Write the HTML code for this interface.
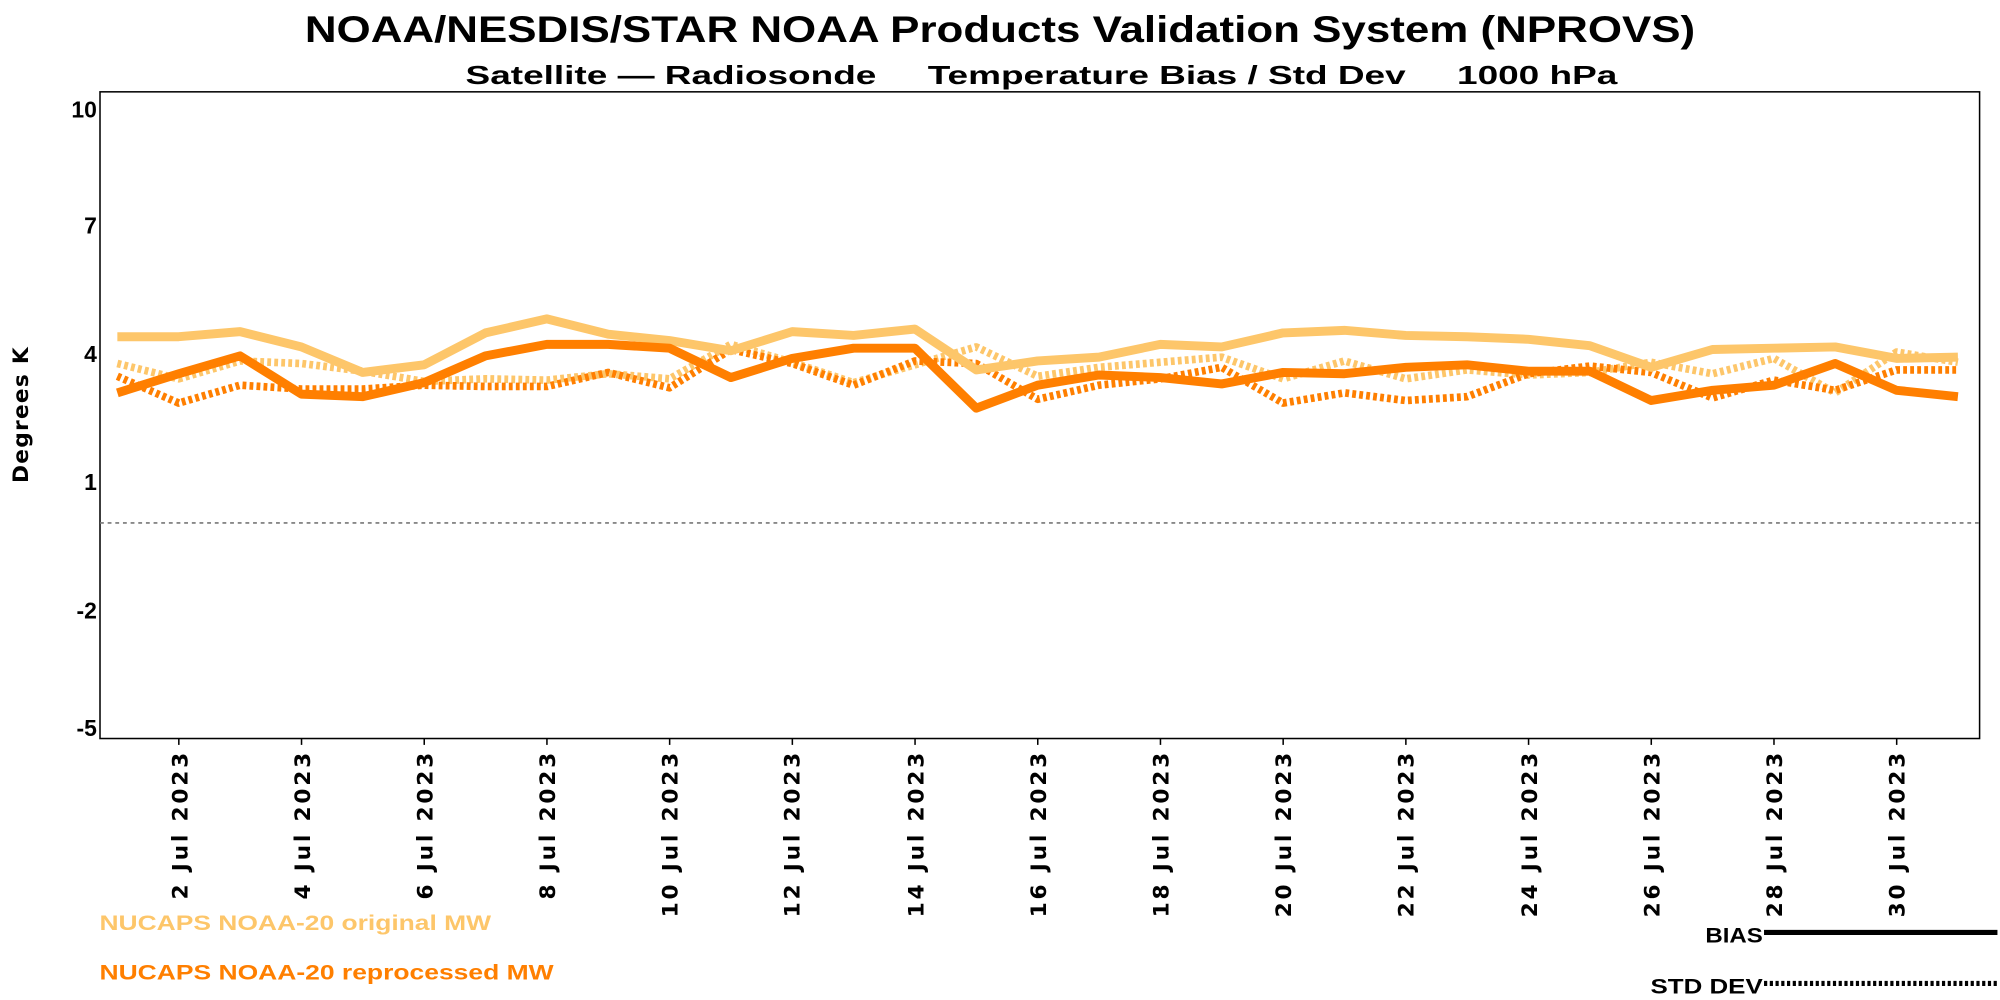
<!DOCTYPE html>
<html><head><meta charset="utf-8"><style>html,body{margin:0;padding:0;background:#fff}svg{display:block}</style></head>
<body>
<svg width="2000" height="1000" viewBox="0 0 1568 784" xmlns="http://www.w3.org/2000/svg" font-family="Liberation Sans, DejaVu Sans, sans-serif" font-weight="bold">
<text x="784" y="33" text-anchor="middle" font-size="29" textLength="1090" lengthAdjust="spacingAndGlyphs">NOAA/NESDIS/STAR  NOAA Products Validation System (NPROVS)</text>
<text x="365" y="66" font-size="20" textLength="903" lengthAdjust="spacingAndGlyphs" xml:space="preserve">Satellite — Radiosonde     Temperature Bias / Std Dev     1000 hPa</text>
<rect x="78.4" y="72" width="1473.6" height="507" fill="none" stroke="#000" stroke-width="1.2"/>
<line x1="78.4" y1="410" x2="1552" y2="410" stroke="#777" stroke-width="1.3" stroke-dasharray="3,3"/>
<g font-size="18" text-anchor="end">
<text x="76" y="92">10</text><text x="76" y="183">7</text><text x="76" y="284">4</text><text x="76" y="384">1</text><text x="76" y="485">-2</text><text x="76" y="577">-5</text>
</g>
<text transform="translate(22,325) rotate(-90)" text-anchor="middle" font-size="17" font-family="DejaVu Sans, sans-serif" letter-spacing="1">Degrees K</text>
<g stroke="#000" stroke-width="1.2">
<line x1="140.2" y1="579" x2="140.2" y2="584"/><line x1="236.4" y1="579" x2="236.4" y2="584"/><line x1="332.6" y1="579" x2="332.6" y2="584"/><line x1="428.8" y1="579" x2="428.8" y2="584"/><line x1="525" y1="579" x2="525" y2="584"/><line x1="621.2" y1="579" x2="621.2" y2="584"/><line x1="717.4" y1="579" x2="717.4" y2="584"/><line x1="813.6" y1="579" x2="813.6" y2="584"/><line x1="909.8" y1="579" x2="909.8" y2="584"/><line x1="1006" y1="579" x2="1006" y2="584"/><line x1="1102.2" y1="579" x2="1102.2" y2="584"/><line x1="1198.4" y1="579" x2="1198.4" y2="584"/><line x1="1294.6" y1="579" x2="1294.6" y2="584"/><line x1="1390.8" y1="579" x2="1390.8" y2="584"/><line x1="1487" y1="579" x2="1487" y2="584"/>
</g>
<g font-size="17" text-anchor="end" font-family="DejaVu Sans, sans-serif" letter-spacing="2.2">
<text transform="translate(147,588) rotate(-90)">2 Jul 2023</text>
<text transform="translate(243,588) rotate(-90)">4 Jul 2023</text>
<text transform="translate(339,588) rotate(-90)">6 Jul 2023</text>
<text transform="translate(435,588) rotate(-90)">8 Jul 2023</text>
<text transform="translate(531,588) rotate(-90)">10 Jul 2023</text>
<text transform="translate(627,588) rotate(-90)">12 Jul 2023</text>
<text transform="translate(724,588) rotate(-90)">14 Jul 2023</text>
<text transform="translate(820,588) rotate(-90)">16 Jul 2023</text>
<text transform="translate(916,588) rotate(-90)">18 Jul 2023</text>
<text transform="translate(1012,588) rotate(-90)">20 Jul 2023</text>
<text transform="translate(1108,588) rotate(-90)">22 Jul 2023</text>
<text transform="translate(1205,588) rotate(-90)">24 Jul 2023</text>
<text transform="translate(1301,588) rotate(-90)">26 Jul 2023</text>
<text transform="translate(1397,588) rotate(-90)">28 Jul 2023</text>
<text transform="translate(1493,588) rotate(-90)">30 Jul 2023</text>
</g>
<g fill="none" stroke-linejoin="round">
<polyline stroke="#FDC66A" stroke-width="6" stroke-dasharray="3,2.5" points="92,285 140.1,297 188.2,283 236.3,285 284.4,291 332.5,299 380.6,297 428.7,298 476.8,293 524.9,297 573,270 621.1,284 669.2,300 717.3,286 765.4,272 813.5,295 861.6,288 909.7,284 957.8,280 1005.9,297 1054,283 1102.1,297 1150.2,290 1198.3,294 1246.4,292 1294.5,284 1342.6,293 1390.7,281 1438.8,308 1486.9,276 1535,284"/>
<polyline stroke="#FF7F00" stroke-width="6" stroke-dasharray="3,2.5" points="92,295 140.1,316 188.2,302 236.3,305 284.4,305 332.5,302 380.6,303 428.7,303 476.8,292 524.9,304 573,274 621.1,285 669.2,302 717.3,283 765.4,285 813.5,313 861.6,302 909.7,297 957.8,288 1005.9,316 1054,308 1102.1,314 1150.2,311 1198.3,293 1246.4,287 1294.5,292 1342.6,312 1390.7,298 1438.8,306 1486.9,290 1535,290"/>
<polyline stroke="#FDC66A" stroke-width="7" points="92,264 140.1,264 188.2,260 236.3,272 284.4,292 332.5,286 380.6,261 428.7,250 476.8,262 524.9,267 573,275 621.1,260 669.2,263 717.3,258 765.4,290 813.5,283 861.6,280 909.7,270 957.8,272 1005.9,261 1054,259 1102.1,263 1150.2,264 1198.3,266 1246.4,271 1294.5,288 1342.6,274 1390.7,273 1438.8,272 1486.9,281 1535,280"/>
<polyline stroke="#FF7F00" stroke-width="7" points="92,308 140.1,293 188.2,279 236.3,309 284.4,311 332.5,300 380.6,279 428.7,270 476.8,270 524.9,273 573,296 621.1,281 669.2,273 717.3,273 765.4,320 813.5,302 861.6,294 909.7,296 957.8,301 1005.9,292 1054,293 1102.1,288 1150.2,286 1198.3,291 1246.4,291 1294.5,314 1342.6,306 1390.7,302 1438.8,285 1486.9,306 1535,311"/>
</g>
<text x="78" y="729" font-size="17" fill="#FDC66A" textLength="307" lengthAdjust="spacingAndGlyphs">NUCAPS NOAA-20 original MW</text>
<text x="78" y="768" font-size="17" fill="#FF7F00" textLength="356" lengthAdjust="spacingAndGlyphs">NUCAPS NOAA-20 reprocessed MW</text>
<text x="1382" y="739" font-size="17" text-anchor="end" textLength="45" lengthAdjust="spacingAndGlyphs">BIAS</text>
<line x1="1383" y1="731" x2="1566" y2="731" stroke="#000" stroke-width="4"/>
<text x="1382" y="779" font-size="17" text-anchor="end" textLength="88" lengthAdjust="spacingAndGlyphs">STD DEV</text>
<line x1="1383" y1="771" x2="1566" y2="771" stroke="#000" stroke-width="4" stroke-dasharray="2.5,2"/>
</svg>
</body></html>
